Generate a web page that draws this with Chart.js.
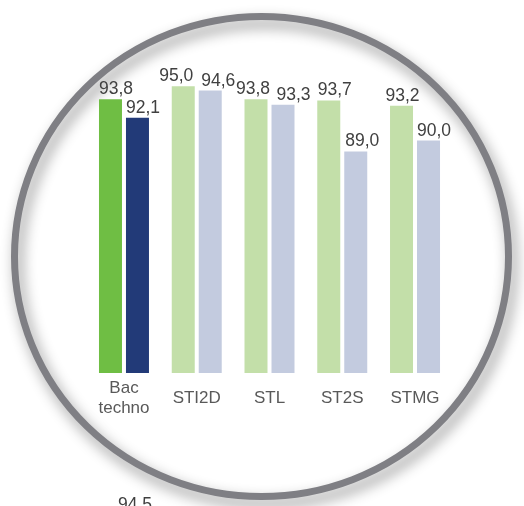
<!DOCTYPE html>
<html>
<head>
<meta charset="utf-8">
<script src="https://cdn.jsdelivr.net/npm/chart.js@4.4.1/dist/chart.umd.min.js"></script>
<style>
  html, body { margin: 0; padding: 0; background: #fff; }
  canvas { display: block; }
</style>
</head>
<body>
<canvas id="chart" width="524" height="506"></canvas>
<script>
const categories = [['Bac', 'techno'], 'STI2D', 'STL', 'ST2S', 'STMG']
const seriesA = [93.8, 95.0, 93.8, 93.7, 93.2]
const seriesB = [92.1, 94.6, 93.3, 89.0, 90.0]
const nextValue = [94.5]

const strongGreen = '#6FBE44'
const lightGreen = '#C3DFA9'
const strongBlue = '#223A78'
const lightBlue = '#C3CBDF'

const fmt = v => v.toFixed(1).replace('.', ',')

// grey ring with a soft drop shadow around the whole chart
const ringPlugin = {
  id: 'ring',
  beforeDraw(chart) {
    const ctx = chart.ctx
    ctx.save()
    ctx.beginPath()
    ctx.ellipse(261.5, 256.5, 247, 240, 0, 0, Math.PI * 2)
    ctx.lineWidth = 7
    ctx.strokeStyle = '#7F7F84'
    ctx.shadowColor = 'rgba(0, 0, 0, 0.45)'
    ctx.shadowBlur = 14
    ctx.shadowOffsetX = 4
    ctx.shadowOffsetY = 7
    ctx.stroke()
    ctx.restore()
  }
}

// value labels above the bars, nudged sideways so neighbours don't collide
const valueLabels = {
  id: 'valueLabels',
  afterDatasetsDraw(chart, args, opts) {
    const ctx = chart.ctx
    ctx.save()
    ctx.font = '17.5px "Liberation Sans", Arial, sans-serif'
    ctx.fillStyle = '#404040'
    ctx.textAlign = 'center'
    ctx.textBaseline = 'alphabetic'
    chart.data.datasets.forEach((ds, di) => {
      chart.getDatasetMeta(di).data.forEach((bar, i) => {
        const dx = opts.nudge[di][i]
        ctx.fillText(fmt(ds.data[i]), bar.x + dx, bar.y - 5)
      })
    })
    // first figure of the next block, cut off by the bottom edge
    ctx.textAlign = 'left'
    ctx.fillText(fmt(nextValue[0]), 118, 510)
    ctx.restore()
  }
}

new Chart(document.getElementById('chart'), {
  type: 'bar',
  data: {
    labels: categories,
    datasets: [
      {
        label: 'A',
        data: seriesA,
        backgroundColor: c => c.dataIndex === 0 ? strongGreen : lightGreen
      },
      {
        label: 'B',
        data: seriesB,
        backgroundColor: c => c.dataIndex === 0 ? strongBlue : lightBlue
      }
    ]
  },
  options: {
    responsive: false,
    animation: false,
    events: [],
    categoryPercentage: 0.742,
    barPercentage: 0.852,
    layout: {
      padding: { left: 87.6, right: 72.6, top: 32, bottom: 63 }
    },
    plugins: {
      legend: { display: false },
      tooltip: { enabled: false },
      valueLabels: {
        nudge: [
          [5.5, -7, -3, 6, 1],
          [5.5, 8, 10.5, 6.5, 5.5]
        ]
      }
    },
    scales: {
      x: {
        grid: { display: false, drawTicks: false },
        border: { display: false },
        ticks: {
          padding: 15,
          color: '#595959',
          crossAlign: 'center',
          maxRotation: 0,
          autoSkip: false,
          font: { family: '"Liberation Sans", Arial, sans-serif', size: 17, lineHeight: 1.18 }
        }
      },
      y: {
        display: false,
        min: 68.6,
        max: 100
      }
    }
  },
  plugins: [ringPlugin, valueLabels]
})
</script>
</body>
</html>
